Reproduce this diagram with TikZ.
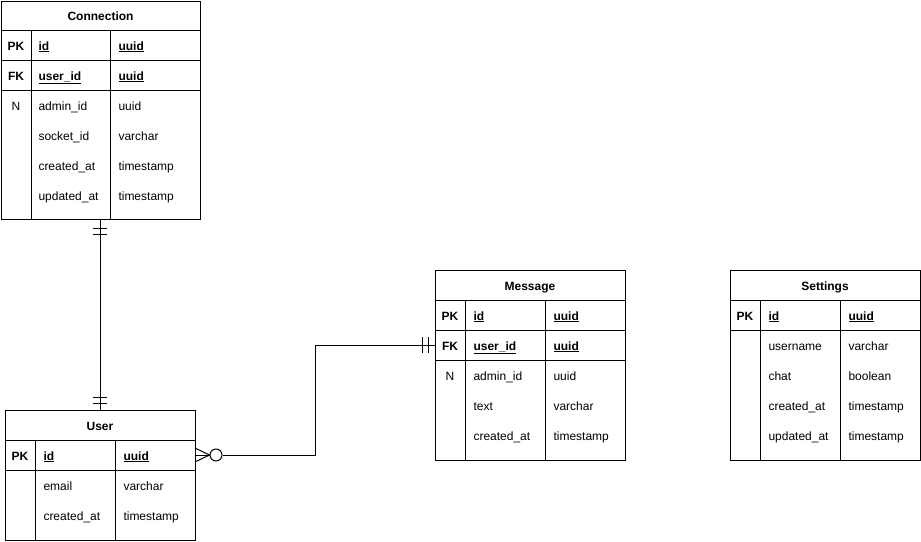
\documentclass[tikz,border=0pt]{standalone}
\usepackage{fontspec}
\setmainfont{Liberation Sans}
\begin{document}
\begin{tikzpicture}[x=1pt,y=-1pt,line width=1pt,
  tbl/.style={draw,anchor=north west,inner sep=0pt,outer sep=0pt},
  txt/.style={font=\fontsize{12}{14}\selectfont,text height=10pt,text depth=0pt,inner sep=0pt},
  ttl/.style={txt,font=\fontsize{12}{14}\selectfont\bfseries},
  keyc/.style={txt,font=\fontsize{12}{14}\selectfont\bfseries},
  nkey/.style={txt},
  fld/.style={txt,anchor=west},
  pkf/.style={fld,font=\fontsize{12}{14}\selectfont\bfseries},
  bar/.style={line width=1pt},
]
\useasboundingbox (0,0) rectangle (921,541);

% ---------------- Connection ----------------
\node[tbl,minimum width=199pt,minimum height=218pt] (conn) at (1,1) {};
\draw (1,30) -- (200,30) (1,60) -- (200,60) (1,90) -- (200,90);
\draw (31,30) -- (31,219) (110,30) -- (110,219);
\node[ttl] (connT) at (100.5,15) {Connection};
\node[keyc] (connK1) at (16,45) {PK};
\node[keyc] (connK2) at (16,75) {FK};
\node[nkey] (connK3) at (16,105) {N};
\node[pkf] (connN1) at (38,45) {\underline{id}};
\node[pkf] (connN2) at (38,75) {\underline{user\_id}};
\node[fld] (connN3) at (38,105) {admin\_id};
\node[fld] (connN4) at (38,135) {socket\_id};
\node[fld] (connN5) at (38,165) {created\_at};
\node[fld] (connN6) at (38,195) {updated\_at};
\node[pkf] (connY1) at (118,45) {\underline{uuid}};
\node[pkf] (connY2) at (118,75) {\underline{uuid}};
\node[fld] (connY3) at (118,105) {uuid};
\node[fld] (connY4) at (118,135) {varchar};
\node[fld] (connY5) at (118,165) {timestamp};
\node[fld] (connY6) at (118,195) {timestamp};

% ---------------- User ----------------
\node[tbl,minimum width=190pt,minimum height=130pt] (user) at (5,410) {};
\draw (5,440) -- (195,440) (5,470) -- (195,470);
\draw (35,440) -- (35,540) (115,440) -- (115,540);
\node[ttl] (userT) at (100,425) {User};
\node[keyc] (userK1) at (20,455) {PK};
\node[pkf] (userN1) at (43,455) {\underline{id}};
\node[fld] (userN2) at (43,485) {email};
\node[fld] (userN3) at (43,515) {created\_at};
\node[pkf] (userY1) at (123,455) {\underline{uuid}};
\node[fld] (userY2) at (123,485) {varchar};
\node[fld] (userY3) at (123,515) {timestamp};
\coordinate (userPK) at (195,455);

% ---------------- Message ----------------
\node[tbl,minimum width=190pt,minimum height=190pt] (msg) at (435,270) {};
\draw (435,300) -- (625,300) (435,330) -- (625,330) (435,360) -- (625,360);
\draw (465,300) -- (465,460) (545,300) -- (545,460);
\node[ttl] (msgT) at (530,285) {Message};
\node[keyc] (msgK1) at (450,315) {PK};
\node[keyc] (msgK2) at (450,345) {FK};
\node[nkey] (msgK3) at (450,375) {N};
\node[pkf] (msgN1) at (473,315) {\underline{id}};
\node[pkf] (msgN2) at (473,345) {\underline{user\_id}};
\node[fld] (msgN3) at (473,375) {admin\_id};
\node[fld] (msgN4) at (473,405) {text};
\node[fld] (msgN5) at (473,435) {created\_at};
\node[pkf] (msgY1) at (553,315) {\underline{uuid}};
\node[pkf] (msgY2) at (553,345) {\underline{uuid}};
\node[fld] (msgY3) at (553,375) {uuid};
\node[fld] (msgY4) at (553,405) {varchar};
\node[fld] (msgY5) at (553,435) {timestamp};
\coordinate (msgFK) at (435,345);

% ---------------- Settings ----------------
\node[tbl,minimum width=190pt,minimum height=190pt] (set) at (730,270) {};
\draw (730,300) -- (920,300) (730,330) -- (920,330);
\draw (760,300) -- (760,460) (840,300) -- (840,460);
\node[ttl] (setT) at (825,285) {Settings};
\node[keyc] (setK1) at (745,315) {PK};
\node[pkf] (setN1) at (768,315) {\underline{id}};
\node[fld] (setN2) at (768,345) {username};
\node[fld] (setN3) at (768,375) {chat};
\node[fld] (setN4) at (768,405) {created\_at};
\node[fld] (setN5) at (768,435) {updated\_at};
\node[pkf] (setY1) at (848,315) {\underline{uuid}};
\node[fld] (setY2) at (848,345) {varchar};
\node[fld] (setY3) at (848,375) {boolean};
\node[fld] (setY4) at (848,405) {timestamp};
\node[fld] (setY5) at (848,435) {timestamp};

% ---------------- Connection -- User (one to one) ----------------
\draw (conn.south) -- (conn.south |- user.north);
\draw[bar] (93,228) -- (107,228) (93,234) -- (107,234);
\draw[bar] (93,397) -- (107,397) (93,403) -- (107,403);

% ---------------- User -- Message (zero-or-many to one) ----------------
\node[draw,circle,minimum size=12pt,inner sep=0pt] (zero) at (216,455) {};
\draw (userPK) -- (zero.west);
\draw (195,448) -- (zero.west) -- (195,462);
\draw (zero.east) -- (315,455) -- (315,345) -- (msgFK);
\draw[bar] (422,337) -- (422,353) (428,337) -- (428,353);

\end{tikzpicture}
\end{document}
